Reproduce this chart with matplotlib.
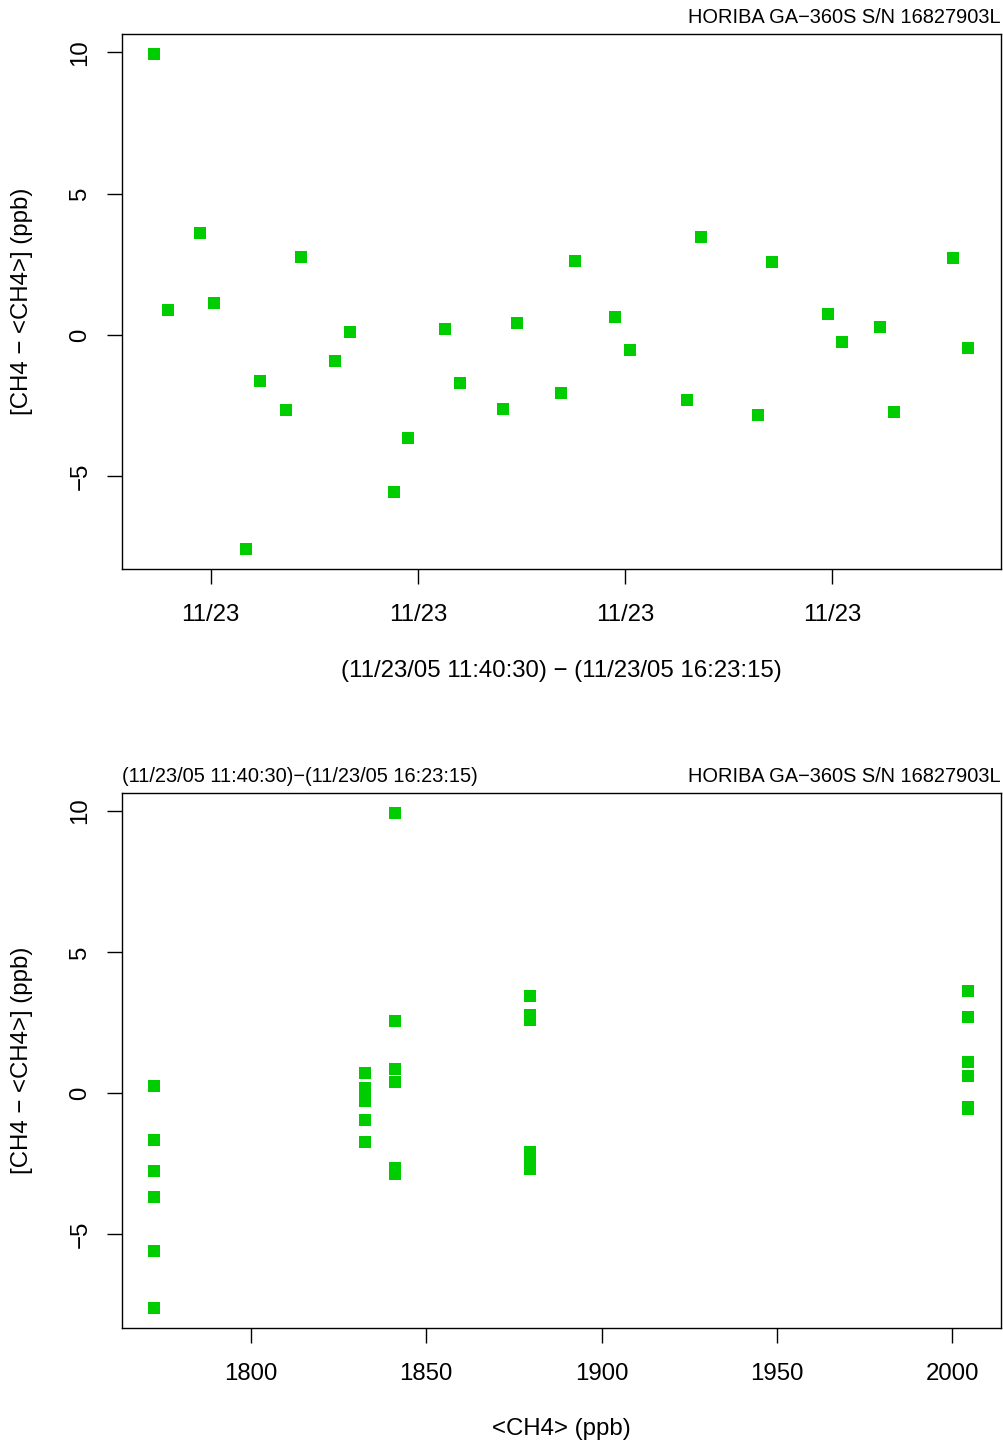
import numpy as np
import matplotlib
matplotlib.use("Agg")
import matplotlib.pyplot as plt
import matplotlib.dates as mdates
from matplotlib.ticker import MultipleLocator

plt.rcParams["font.family"] = ["Liberation Sans", "DejaVu Sans"]

# sample times on 2005-11-23 (time order)
times = ["11:43:40", "11:47:43", "11:56:59", "12:01:03", "12:10:19", "12:14:22",
         "12:21:53", "12:26:14", "12:36:05", "12:40:26", "12:53:10", "12:57:13",
         "13:07:56", "13:12:17", "13:24:44", "13:28:47", "13:41:32", "13:45:35",
         "13:57:10", "14:01:31", "14:18:01", "14:22:04", "14:38:34", "14:42:38",
         "14:58:50", "15:02:54", "15:13:54", "15:17:58", "15:35:02", "15:39:23"]

# CH4 - <CH4> (ppb)
dev = [9.95, 0.88, 3.61, 1.12, -7.60, -1.64, -2.67, 2.76, -0.93, 0.10,
       -5.58, -3.66, 0.20, -1.71, -2.63, 0.41, -2.07, 2.61, 0.63, -0.54,
       -2.32, 3.46, -2.85, 2.58, 0.73, -0.26, 0.27, -2.74, 2.72, -0.47]

# <CH4> of the standard measured (ppb)
ch4_mean = [1841.2, 1841.2, 2004.6, 2004.6, 1772.4, 1772.4, 1879.7, 1879.7,
            1832.6, 1832.6, 1772.4, 1772.4, 1832.6, 1832.6, 1841.2, 1841.2,
            1879.7, 1879.7, 2004.6, 2004.6, 1879.7, 1879.7, 1841.2, 1841.2,
            1832.6, 1832.6, 1772.4, 1772.4, 2004.6, 2004.6]

instrument = "HORIBA GA\u2212360S S/N 16827903L"
period = "(11/23/05 11:40:30)\u2212(11/23/05 16:23:15)"
period_lab = "(11/23/05 11:40:30) \u2212 (11/23/05 16:23:15)"
ylab = "[CH4 \u2212 <CH4>] (ppb)"

t = np.array(["2005-11-23T" + s for s in times], dtype="datetime64[s]")
green = "#00CD00"
fs = 17.3
fs_small = 14.45

W, H = 1004, 1447
fig = plt.figure(figsize=(W / 100, H / 100), dpi=100)
ax1 = fig.add_axes([121.7 / W, 1 - 569.3 / H, 879 / W, 535.3 / H])
ax2 = fig.add_axes([121.7 / W, 1 - 1327.7 / H, 879 / W, 535 / H])

ax1.plot(t, dev, "s", color=green, markersize=8.0, markeredgewidth=0)
ax2.plot(ch4_mean, dev, "s", color=green, markersize=8.0, markeredgewidth=0)

for ax in (ax1, ax2):
    ax.margins(x=0.04, y=0.04)
    ax.yaxis.set_major_locator(MultipleLocator(5))
    for sp in ax.spines.values():
        sp.set_linewidth(1.0)
    ax.tick_params(length=10.8, width=1.0, labelsize=fs)
    ax.tick_params(axis="x", pad=14.5)
    ax.tick_params(axis="y", pad=11)
    plt.setp(ax.get_yticklabels(), rotation=90, va="center", ha="right")
    ax.set_ylabel(ylab, fontsize=fs, va="center")
    ax.yaxis.set_label_coords(-100 / 879, 0.5)
    ax.annotate(instrument, xy=(1, 1), xycoords="axes fraction", xytext=(0, 7.7),
                textcoords="offset points", ha="right", va="baseline", fontsize=fs_small)

ax1.xaxis.set_major_locator(mdates.HourLocator())
ax1.xaxis.set_major_formatter(mdates.DateFormatter("%m/%d"))
ax1.set_xlabel(period_lab, fontsize=fs, va="center")
ax1.xaxis.set_label_coords(0.5, -102 / 535)

ax2.xaxis.set_major_locator(MultipleLocator(50))
ax2.set_xlabel("<CH4> (ppb)", fontsize=fs, va="center")
ax2.xaxis.set_label_coords(0.5, -101 / 535)
ax2.annotate(period, xy=(0, 1), xycoords="axes fraction", xytext=(0, 7.7),
             textcoords="offset points", ha="left", va="baseline", fontsize=fs_small)

fig.savefig("out.png", dpi=100)
